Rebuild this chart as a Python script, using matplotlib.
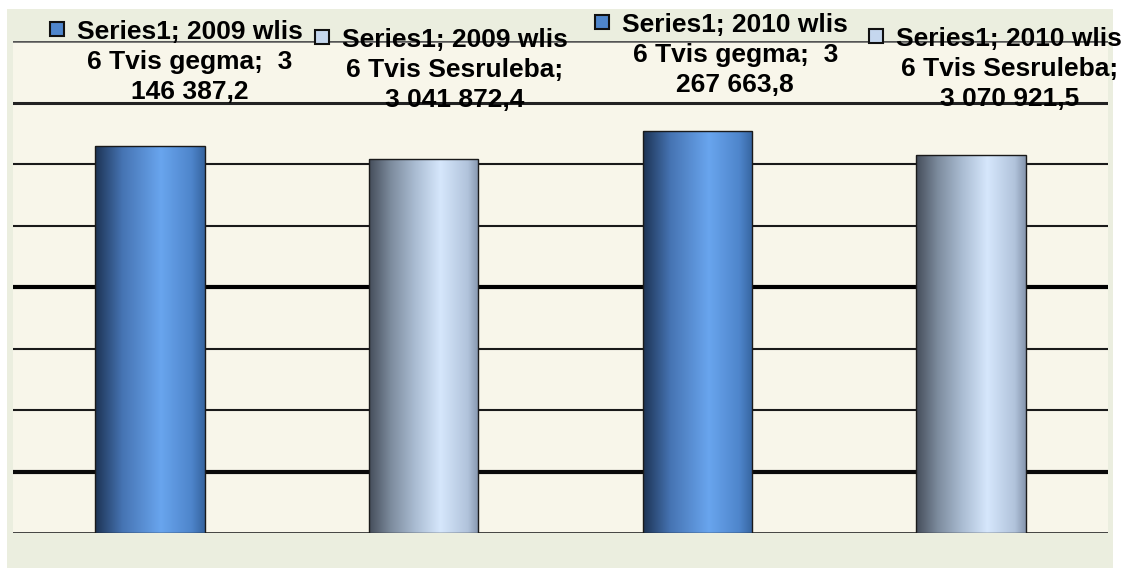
import numpy as np
import matplotlib
matplotlib.use('Agg')
import matplotlib.pyplot as plt
from matplotlib import transforms
from matplotlib.colors import LinearSegmentedColormap
from matplotlib.patches import Rectangle

# data
categories = ['2009 wlis 6 Tvis gegma', '2009 wlis 6 Tvis Sesruleba',
              '2010 wlis 6 Tvis gegma', '2010 wlis 6 Tvis Sesruleba']
values = [3146387.2, 3041872.4, 3267663.8, 3070921.5]
label_texts = [
    'Series1; 2009 wlis\n6 Tvis gegma;  3\n146 387,2',
    'Series1; 2009 wlis\n6 Tvis Sesruleba;\n3 041 872,4',
    'Series1; 2010 wlis\n6 Tvis gegma;  3\n267 663,8',
    'Series1; 2010 wlis\n6 Tvis Sesruleba;\n3 070 921,5',
]
kinds = ['plan', 'done', 'plan', 'done']

# style: gradients for the two kinds of bar
blue_cmap = LinearSegmentedColormap.from_list('blue', [
    (0.0, '#1d3354'), (0.25, '#4674b3'), (0.6, '#69a5ee'),
    (0.88, '#4e85cb'), (1.0, '#36649f')])
silver_cmap = LinearSegmentedColormap.from_list('silver', [
    (0.0, '#454d5a'), (0.2, '#7d8c9e'), (0.42, '#aabcd2'),
    (0.65, '#d6e7fc'), (0.9, '#b1c3db'), (1.0, '#8696ae')])
key_colors = {'plan': '#4f86cc', 'done': '#c5d7ee'}

# label placement in pixels: text centre offset from bar centre, first-line
# baseline offset from axes top, key square offset from text centre
LINE_STEP = 30
text_dx = [40, 31, 38, 38]
text_dy = [2, -6, 9, -5]
key_dx = -133
key_dy = 10

W, H, DPI = 1146, 568, 100
fig = plt.figure(figsize=(W / DPI, H / DPI), dpi=DPI, facecolor='white')

# chart area background
fig.patches.append(Rectangle((7 / W, 0), (1113 - 7) / W, (H - 9) / H,
                             transform=fig.transFigure, facecolor='#ebeedf',
                             edgecolor='none', zorder=-5))

ax = fig.add_axes([13 / W, 35 / H, (1108 - 13) / W, (533 - 41) / H])
ax.set_facecolor('#f8f6ea')

x = np.arange(len(values))
bars = ax.bar(x, values, width=0.4, color='none', edgecolor='#1a1a1a',
              linewidth=1.0, zorder=3)

grad = np.linspace(0, 1, 256).reshape(1, -1)
for b, kind in zip(bars, kinds):
    cmap = blue_cmap if kind == 'plan' else silver_cmap
    im = ax.imshow(grad, cmap=cmap, aspect='auto', zorder=2,
                   extent=(b.get_x(), b.get_x() + b.get_width(), 0, b.get_height()))
    im.set_clip_path(b)

ax.set_xlim(-0.5, len(values) - 0.5)
ax.set_ylim(0, 4000000)
ax.set_yticks(np.arange(0, 4000001, 500000))
ax.set_xticks([])
ax.tick_params(left=False, labelleft=False)
ax.grid(axis='y', color='#151515', linewidth=1.5, zorder=1)
ax.set_axisbelow(True)
# some gridlines come out heavier in the original
widths = [2.0, 3.0, 1.5, 1.5, 3.0, 1.5, 1.5, 2.2, 1.8]
greys = ['#333333', '#0a0a0a', '#1a1a1a', '#1a1a1a', '#000000', '#1a1a1a',
         '#1a1a1a', '#222222', '#555555']
for ln, w, c in zip(ax.get_ygridlines(), widths, greys):
    ln.set_linewidth(w)
    ln.set_color(c)
for s in ax.spines.values():
    s.set_visible(False)

# data labels with legend keys
for i, (txt, kind) in enumerate(zip(label_texts, kinds)):
    base = ax.get_xaxis_transform()
    lines = txt.split('\n')
    for j, line in enumerate(lines):
        tr = transforms.offset_copy(base, fig, x=text_dx[i],
                                    y=text_dy[i] - j * LINE_STEP, units='dots')
        ax.text(x[i], 1, line, transform=tr, ha='center', va='baseline',
                fontsize=19, fontweight='bold', family='Liberation Sans',
                color='black', clip_on=False, zorder=5)
    trk = transforms.offset_copy(base, fig, x=text_dx[i] + key_dx,
                                 y=text_dy[i] + key_dy, units='dots')
    ax.plot([x[i]], [1], marker='s', markersize=10, markerfacecolor=key_colors[kind],
            markeredgecolor='#111111', markeredgewidth=1.5, transform=trk,
            clip_on=False, zorder=5)

fig.savefig('out.png', dpi=DPI)
